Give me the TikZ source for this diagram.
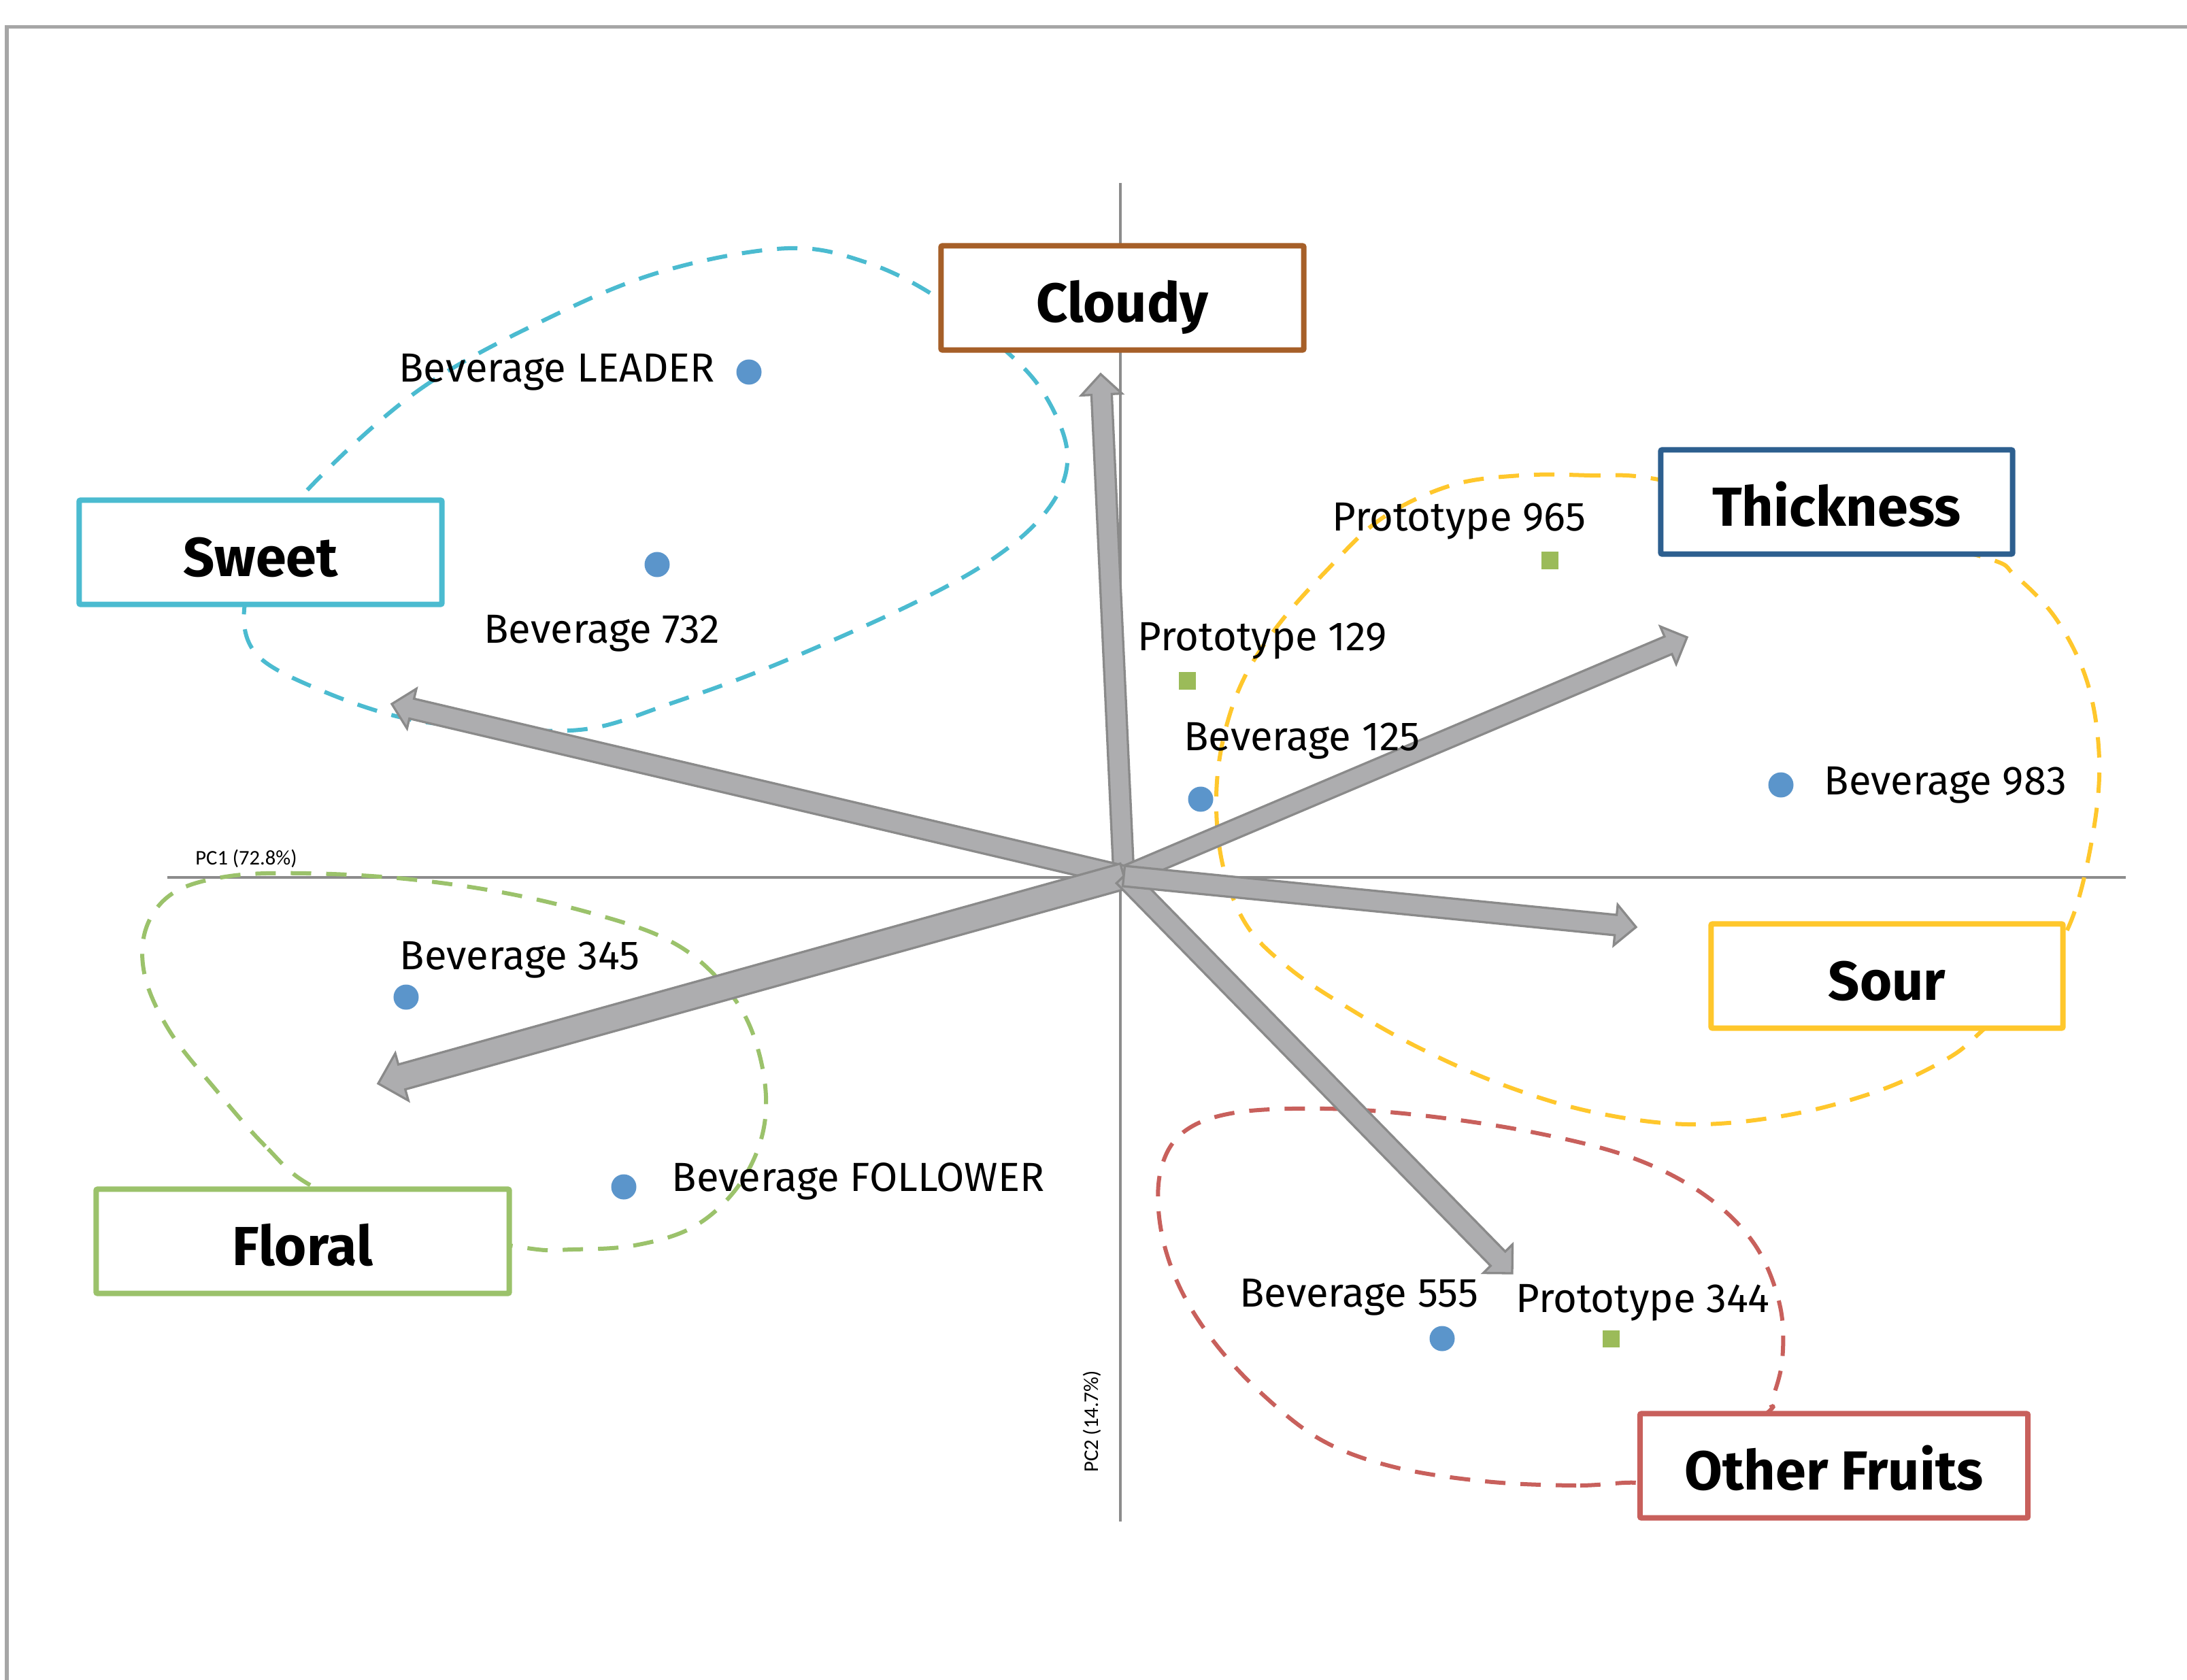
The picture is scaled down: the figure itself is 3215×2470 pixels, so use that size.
\documentclass[tikz,border=0pt]{standalone}
\usepackage{fontspec}
\setmainfont{Fira Sans}
\newfontfamily\axisfont{Carlito}
\usepackage{tikz}
\usetikzlibrary{calc,positioning}

\definecolor{sweetcol}{HTML}{4BBBD0}
\definecolor{cloudycol}{HTML}{A65F28}
\definecolor{thickcol}{HTML}{2D5F8F}
\definecolor{sourcol}{HTML}{FFC72C}
\definecolor{floralcol}{HTML}{9BC26B}
\definecolor{othercol}{HTML}{C8605C}
\definecolor{dotblue}{HTML}{5B95CB}
\definecolor{protogreen}{HTML}{9BBB59}
\definecolor{arrowfill}{HTML}{ADADAF}
\definecolor{arrowedge}{HTML}{8A8A8A}
\definecolor{axisgray}{HTML}{8C8C8C}
\definecolor{framegray}{HTML}{A6A6A6}

% block arrow: shaft half width, head half width, from, to
\newcommand{\pcarrow}[4]{%
  \coordinate (ahb) at ($(#4)!#2!(#3)$);
  \draw[pcarrowline] ($(#3)!#1!90:(#4)$) -- ($(ahb)!#1!90:(#4)$)
    -- ($(ahb)!#2!90:(#4)$) -- (#4) -- ($(ahb)!#2!-90:(#4)$)
    -- ($(ahb)!#1!-90:(#4)$) -- ($(#3)!#1!-90:(#4)$) -- cycle;
}

\begin{document}
\begin{tikzpicture}
          [x=0.01cm, y=-0.01cm,
           attr/.style={draw, fill=white, line width=0.08cm, rounded corners=0.02cm,
                        minimum height=1.53cm, inner sep=0, text height=20pt, text depth=0pt,
                        font=\fontsize{23}{26}\selectfont\bfseries},
           hull/.style={line width=0.06cm, dash pattern=on 0.3cm off 0.22cm},
           dot/.style={circle, fill=dotblue, inner sep=0, minimum size=0.37cm},
           proto/.style={rectangle, fill=protogreen, inner sep=0, minimum size=0.25cm},
           lbl/.style={inner sep=0, font=\fontsize{17}{20}\selectfont},
           axis/.style={draw=axisgray, line width=0.035cm},
           pcarrowline/.style={draw=arrowedge, fill=arrowfill, line width=0.033cm}
          ]
          \useasboundingbox (0,0) rectangle (3215,2470);
          \draw[draw=framegray, line width=0.05cm] (10,2470) -- (10,40) -- (3215,40);

          % axes
          \coordinate (xl) at (246,1290);
          \coordinate (xr) at (3125,1290);
          \coordinate (yt) at (1647,269);
          \coordinate (yb) at (1647,2237);
          \draw[axis] (xl) -- (xr);
          \draw[axis] (yt) -- (yb);
          \node[font=\axisfont\fontsize{8.7}{10}\selectfont, inner sep=0] (pc1) at (362,1262) {PC1 (72.8\%)};
          \node[font=\axisfont\fontsize{8.7}{10}\selectfont, inner sep=0, rotate=90] (pc2) at (1605,2090) {PC2 (14.7\%)};

          % groups
          \draw[hull, draw=sweetcol] plot[smooth cycle, tension=0.6] coordinates {
            (441,732) (615,574) (820,461) (984,396) (1158,365) (1271,385) (1374,435)
            (1482,519) (1538,584) (1569,666) (1548,738) (1476,810) (1353,882)
            (1148,974) (984,1035) (861,1072) (718,1070) (595,1056) (472,1015)
            (379,964) (359,896) (390,820)};
          \draw[hull, draw=sourcol] plot[smooth cycle, tension=0.6] coordinates {
            (2438,705) (2337,699) (2235,699) (2132,714) (2030,763) (1948,841)
            (1876,923) (1825,1005) (1796,1097) (1788,1189) (1800,1282) (1835,1364)
            (1897,1425) (1979,1480) (2081,1538) (2204,1593) (2337,1634) (2481,1653)
            (2625,1640) (2758,1605) (2860,1558) (2912,1517) (2994,1435) (3045,1353)
            (3076,1230) (3086,1117) (3069,1005) (3024,912) (2963,847) (2912,818)
            (2666,759)};
          \draw[hull, draw=floralcol] plot[smooth cycle, tension=0.6] coordinates {
            (461,1745) (390,1685) (318,1603) (250,1517) (213,1435) (215,1364)
            (256,1312) (338,1288) (451,1284) (595,1292) (738,1312) (871,1343)
            (974,1378) (1042,1425) (1097,1497) (1124,1589) (1120,1671) (1083,1747)
            (1019,1804) (933,1831) (841,1837) (775,1835) (615,1804)};
          \draw[hull, draw=othercol] plot[smooth cycle, tension=0.6] coordinates {
            (2407,2180) (2317,2184) (2184,2178) (2050,2157) (1944,2118) (1856,2050)
            (1784,1972) (1733,1890) (1706,1804) (1706,1722) (1739,1665) (1815,1636)
            (1948,1630) (2091,1640) (2255,1665) (2399,1702) (2506,1757) (2579,1829)
            (2616,1917) (2620,1999) (2604,2061) (2594,2081) (2460,2194)};

          % loadings
          \coordinate (o) at (1652,1288);
          \coordinate (tcloudy) at (1618,550);
          \coordinate (tthick) at (2480,937);
          \coordinate (tsweet) at (576,1035);
          \coordinate (tsour) at (2405,1363);
          \coordinate (tfloral) at (556,1593);
          \coordinate (tother) at (2223,1872);
          \pcarrow{0.15cm}{0.3cm}{o}{tcloudy}
          \pcarrow{0.14cm}{0.3cm}{o}{tthick}
          \pcarrow{0.15cm}{0.3cm}{o}{tsweet}
          \pcarrow{0.19cm}{0.36cm}{o}{tfloral}
          \pcarrow{0.15cm}{0.3cm}{o}{tother}
          \pcarrow{0.15cm}{0.3cm}{o}{tsour}

          % products
          \node[dot] (lead) at (1101,547) {};
          \node[dot] (d732) at (966,830) {};
          \node[proto] (p965) at (2278,824) {};
          \node[proto] (p129) at (1745,1001) {};
          \node[dot] (d125) at (1765,1175) {};
          \node[dot] (d983) at (2618,1154) {};
          \node[dot] (d345) at (597,1466) {};
          \node[dot] (fol) at (917,1745) {};
          \node[dot] (d555) at (2120,1968) {};
          \node[proto] (p344) at (2368,1968) {};

          \node[lbl, left=0.3cm of lead] (tlead) {Beverage LEADER};
          \node[lbl, below=0.54cm of d732, xshift=-0.81cm] (t732) {Beverage 732};
          \node[lbl, above=0.17cm of p965, xshift=-1.33cm] (t965) {Prototype 965};
          \node[lbl, above=0.18cm of p129, xshift=1.11cm] (t129) {Prototype 129};
          \node[lbl, above=0.39cm of d125, xshift=1.49cm] (t125) {Beverage 125};
          \node[lbl, right=0.44cm of d983] (t983) {Beverage 983};
          \node[lbl, above=0.08cm of d345, xshift=1.67cm] (t345) {Beverage 345};
          \node[lbl, right=0.51cm of fol, yshift=0.08cm] (tfol) {Beverage FOLLOWER};
          \node[lbl, above=0.14cm of d555, xshift=-1.22cm] (t555) {Beverage 555};
          \node[lbl, above=0.12cm of p344, xshift=0.47cm] (t344) {Prototype 344};

          % attributes
          \node[attr, draw=cloudycol, minimum width=5.33cm] (cloudy) at (1650,438) {Cloudy};
          \node[attr, draw=thickcol, minimum width=5.17cm] (thick) at (2700,738) {Thickness};
          \node[attr, draw=sweetcol, minimum width=5.33cm] (sweet) at (383,812) {Sweet};
          \node[attr, draw=sourcol, minimum width=5.17cm] (sour) at (2774,1435) {Sour};
          \node[attr, draw=floralcol, minimum width=6.07cm] (floral) at (445,1825) {Floral};
          \node[attr, draw=othercol, minimum width=5.70cm] (other) at (2696,2155) {Other Fruits};
        \end{tikzpicture}
\end{document}
